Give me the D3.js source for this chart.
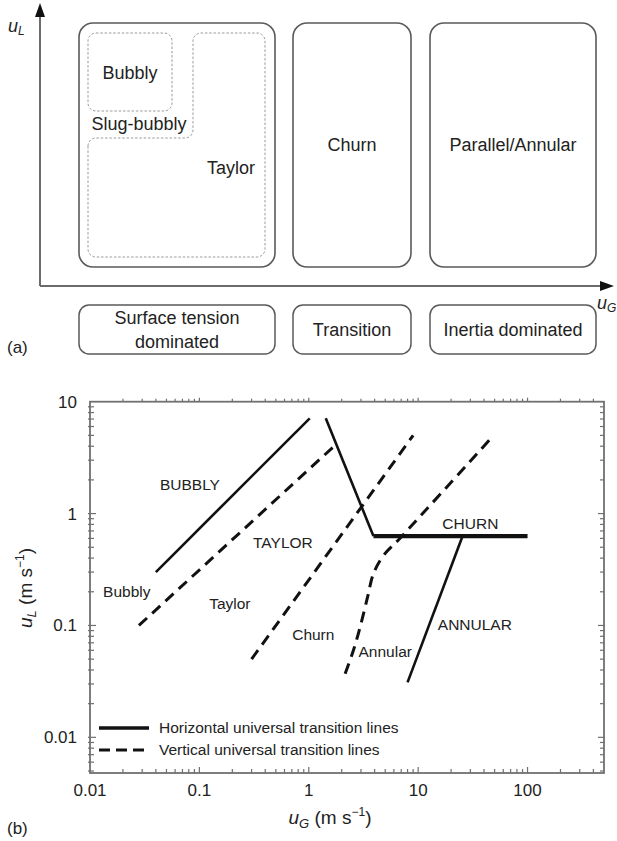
<!DOCTYPE html>
<html>
<head>
<meta charset="utf-8">
<script src="https://cdn.jsdelivr.net/npm/d3@7"></script>
<style>
  html, body { margin: 0; padding: 0; background: #ffffff; }
  svg { display: block; }
  text { font-family: "Liberation Sans", Arial, Helvetica, sans-serif; fill: #222; }
</style>
</head>
<body>
<svg id="fig" width="617" height="841"></svg>
<script>
// ---------- panel (a): schematic regime map ----------
const regimeLabels = ["Bubbly", "Slug-bubbly", "Taylor", "Churn", "Parallel/Annular"];
const forceLabels = [["Surface tension", "dominated"], ["Transition"], ["Inertia dominated"]];

// ---------- panel (b): flow-regime transition lines ----------
const xTickValues = [0.01, 0.1, 1, 10, 100];
const xTickLabels = ["0.01", "0.1", "1", "10", "100"];
const yTickValues = [0.01, 0.1, 1, 10];
const yTickLabels = ["0.01", "0.1", "1", "10"];

// horizontal universal transition lines (solid), [uG, uL] in m/s
const bubblyTaylorLine = [[0.04, 0.3], [1.02, 7.1]];
const taylorChurnLine = [[1.43, 7.1], [3.9, 0.63]];
const churnLine = [[3.9, 0.63], [100, 0.63]];
const annularLine = [[8, 0.031], [25.5, 0.63]];

// vertical universal transition lines (dashed)
const bubblyTaylorVert = [[0.028, 0.1], [1.75, 4.1]];
const taylorChurnVert = [[0.3, 0.05], [9, 5]];
const churnAnnularVert = [[2.15, 0.037], [2.56, 0.06], [2.95, 0.097], [3.45, 0.18], [3.9, 0.29], [4.8, 0.42], [6.8, 0.6], [49, 5]];

// regime annotations, anchored in data units
const upperNames = ["BUBBLY", "TAYLOR", "CHURN", "ANNULAR"];
const upperAnchors = [[0.082, 1.8], [0.58, 0.55], [30, 0.81], [33, 0.102]];
const lowerNames = ["Bubbly", "Taylor", "Churn", "Annular"];
const lowerAnchors = [[0.0217, 0.2], [0.19, 0.158], [1.1, 0.083], [5.0, 0.059]];

const legendLabels = ["Horizontal universal transition lines", "Vertical universal transition lines"];

const svg = d3.select("#fig");

// ======================= panel (a) =======================
const A = svg.append("g");
const ax0 = 40, ay0 = 286;

A.append("line").attr("x1", ax0).attr("y1", ay0).attr("x2", ax0).attr("y2", 12)
  .attr("stroke", "#6b6b6b").attr("stroke-width", 2);
A.append("line").attr("x1", ax0).attr("y1", ay0).attr("x2", 604).attr("y2", ay0)
  .attr("stroke", "#6b6b6b").attr("stroke-width", 2);
A.append("path").attr("d", `M${ax0},3 L${ax0 - 5},17 L${ax0 + 5},17 Z`).attr("fill", "#111");
A.append("path").attr("d", `M614,${ay0} L600,${ay0 - 5} L600,${ay0 + 5} Z`).attr("fill", "#111");

A.append("text").attr("x", 8).attr("y", 32).attr("font-size", 18).attr("font-style", "italic")
  .text("u").append("tspan").attr("font-size", 12).attr("dy", 3).text("L");
A.append("text").attr("x", 597).attr("y", 309).attr("font-size", 18).attr("font-style", "italic")
  .text("u").append("tspan").attr("font-size", 12).attr("dy", 3).text("G");

const cols = [[79, 275], [293, 411], [430, 596]];
const boxStroke = "#5a5a5a";
cols.forEach(([l, r]) => {
  A.append("rect").attr("x", l).attr("y", 23).attr("width", r - l).attr("height", 244)
    .attr("rx", 14).attr("fill", "none").attr("stroke", boxStroke).attr("stroke-width", 1.6);
  A.append("rect").attr("x", l).attr("y", 305).attr("width", r - l).attr("height", 49)
    .attr("rx", 10).attr("fill", "none").attr("stroke", boxStroke).attr("stroke-width", 1.5);
});

// dashed sub-regions inside the surface-tension box
const dashed = { fill: "none", stroke: "#9a9a9a", "stroke-width": 1, "stroke-dasharray": "2.5,1.8" };
const bub = A.append("rect").attr("x", 88).attr("y", 33).attr("width", 84).attr("height", 78).attr("rx", 8);
Object.entries(dashed).forEach(([k, v]) => bub.attr(k, v));
{
  const L = 88, I = 193, R = 265, T = 33, M = 138, Bt = 257, r = 8;
  const d = `M${L},${M + r} A${r},${r} 0 0 1 ${L + r},${M} H${I - r} A${r},${r} 0 0 0 ${I},${M - r}` +
    ` V${T + r} A${r},${r} 0 0 1 ${I + r},${T} H${R - r} A${r},${r} 0 0 1 ${R},${T + r}` +
    ` V${Bt - r} A${r},${r} 0 0 1 ${R - r},${Bt} H${L + r} A${r},${r} 0 0 1 ${L},${Bt - r} Z`;
  const p = A.append("path").attr("d", d);
  Object.entries(dashed).forEach(([k, v]) => p.attr(k, v));
}

const regimePos = [[130, 73], [139, 124], [231, 168], [352, 145], [513, 145]];
regimeLabels.forEach((t, i) => {
  A.append("text").attr("x", regimePos[i][0]).attr("y", regimePos[i][1]).attr("dy", "0.35em")
    .attr("text-anchor", "middle").attr("font-size", 18).text(t);
});
forceLabels.forEach((lines, i) => {
  const cx = (cols[i][0] + cols[i][1]) / 2;
  const top = 329.5 - (lines.length - 1) * 12;
  lines.forEach((t, j) => {
    A.append("text").attr("x", cx).attr("y", top + j * 24).attr("dy", "0.35em")
      .attr("text-anchor", "middle").attr("font-size", 18).text(t);
  });
});
A.append("text").attr("x", 7).attr("y", 347).attr("dy", "0.35em").attr("font-size", 17).text("(a)");

// ======================= panel (b) =======================
const B = svg.append("g");
const x = d3.scaleLog().domain([0.01, 500]).range([90, 604]);
const y = d3.scaleLog().domain([0.0048, 10]).range([773, 401.7]);
const axisColor = "#707070";

// frame
B.append("rect").attr("x", x.range()[0]).attr("y", y.range()[1])
  .attr("width", x.range()[1] - x.range()[0]).attr("height", y.range()[0] - y.range()[1])
  .attr("fill", "none").attr("stroke", axisColor).attr("stroke-width", 1.8);

// minor ticks on all four sides
const xMinor = [];
for (let e = -2; e <= 2; e++) for (let m = 1; m <= 9; m++) {
  const v = m * Math.pow(10, e);
  if (v > 0.01 && v < 500) xMinor.push(v);
}
const yMinor = [];
for (let e = -3; e <= 0; e++) for (let m = 1; m <= 9; m++) {
  const v = m * Math.pow(10, e);
  if (v > 0.0048 && v < 10) yMinor.push(v);
}
const tk = B.append("g").attr("stroke", axisColor).attr("stroke-width", 1.2);
xMinor.forEach(v => {
  const major = xTickValues.includes(v);
  const len = major ? 6 : 4;
  tk.append("line").attr("x1", x(v)).attr("x2", x(v)).attr("y1", y.range()[0]).attr("y2", y.range()[0] - len);
  tk.append("line").attr("x1", x(v)).attr("x2", x(v)).attr("y1", y.range()[1]).attr("y2", y.range()[1] - (major ? 4 : 3));
});
yMinor.forEach(v => {
  const major = yTickValues.includes(v);
  const len = major ? 6 : 4;
  tk.append("line").attr("y1", y(v)).attr("y2", y(v)).attr("x1", x.range()[0] - 2).attr("x2", x.range()[0] + len);
  tk.append("line").attr("y1", y(v)).attr("y2", y(v)).attr("x1", x.range()[1]).attr("x2", x.range()[1] - len);
});

// tick labels
xTickValues.forEach((v, i) => {
  B.append("text").attr("x", x(v)).attr("y", 790).attr("dy", "0.35em").attr("text-anchor", "middle")
    .attr("font-size", 17).text(xTickLabels[i]);
});
yTickValues.forEach((v, i) => {
  B.append("text").attr("x", 77).attr("y", y(v)).attr("dy", "0.35em").attr("text-anchor", "end")
    .attr("font-size", 17).text(yTickLabels[i]);
});

// axis titles
const xt = B.append("text").attr("x", 330).attr("y", 824).attr("text-anchor", "middle").attr("font-size", 19);
xt.append("tspan").attr("font-style", "italic").text("u");
xt.append("tspan").attr("font-style", "italic").attr("font-size", 13).attr("dy", 4).text("G");
xt.append("tspan").attr("dy", -4).text(" (m s");
xt.append("tspan").attr("font-size", 12).attr("dy", -8).text("−1");
xt.append("tspan").attr("dy", 8).text(")");

const yt = B.append("text").attr("transform", "translate(32,588) rotate(-90)")
  .attr("text-anchor", "middle").attr("font-size", 19);
yt.append("tspan").attr("font-style", "italic").text("u");
yt.append("tspan").attr("font-style", "italic").attr("font-size", 13).attr("dy", 4).text("L");
yt.append("tspan").attr("dy", -4).text(" (m s");
yt.append("tspan").attr("font-size", 12).attr("dy", -8).text("−1");
yt.append("tspan").attr("dy", 8).text(")");

B.append("text").attr("x", 7).attr("y", 828).attr("dy", "0.35em").attr("font-size", 17).text("(b)");

// transition lines
const lineGen = d3.line().x(d => x(d[0])).y(d => y(d[1]));
const curveGen = d3.line().x(d => x(d[0])).y(d => y(d[1])).curve(d3.curveCatmullRom.alpha(0.5));
const solid = (pts, w) => B.append("path").attr("d", lineGen(pts)).attr("fill", "none")
  .attr("stroke", "#111").attr("stroke-width", w).attr("stroke-linecap", "butt");
const dash = (pts, gen) => B.append("path").attr("d", (gen || lineGen)(pts)).attr("fill", "none")
  .attr("stroke", "#111").attr("stroke-width", 3).attr("stroke-dasharray", "11,7");

solid(bubblyTaylorLine, 2.6);
solid(taylorChurnLine, 2.6);
solid(churnLine, 4.2);
solid(annularLine, 2.6);
dash(bubblyTaylorVert);
dash(taylorChurnVert);
dash(churnAnnularVert, curveGen);

// regime annotations
upperNames.forEach((t, i) => {
  B.append("text").attr("x", x(upperAnchors[i][0])).attr("y", y(upperAnchors[i][1])).attr("dy", "0.35em")
    .attr("text-anchor", "middle").attr("font-size", 15.5).text(t);
});
lowerNames.forEach((t, i) => {
  B.append("text").attr("x", x(lowerAnchors[i][0])).attr("y", y(lowerAnchors[i][1])).attr("dy", "0.35em")
    .attr("text-anchor", "middle").attr("font-size", 15.5).text(t);
});

// legend
legendLabels.forEach((t, i) => {
  const ly = 728 + i * 22;
  const l = B.append("line").attr("x1", 99).attr("x2", 149).attr("y1", ly).attr("y2", ly)
    .attr("stroke", "#111").attr("stroke-width", i === 0 ? 3.4 : 3);
  if (i === 1) l.attr("stroke-dasharray", "11,6");
  B.append("text").attr("x", 159).attr("y", ly).attr("dy", "0.35em").attr("font-size", 15.5).text(t);
});
</script>
</body>
</html>
